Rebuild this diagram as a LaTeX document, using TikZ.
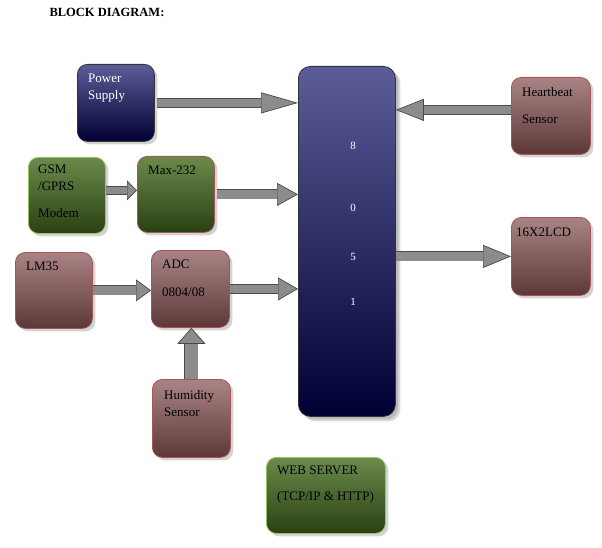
\documentclass[tikz,border=0pt]{standalone}
\usepackage{fontspec}
\setmainfont{Liberation Serif}
\usetikzlibrary{positioning,arrows.meta,shadows}
\definecolor{navytop}{HTML}{5C5C98}
\definecolor{navybot}{HTML}{000033}
\definecolor{greentop}{HTML}{6B8A4B}
\definecolor{greenbot}{HTML}{2A4012}
\definecolor{rosetop}{HTML}{AA8484}
\definecolor{rosebot}{HTML}{5C3838}
\definecolor{limeline}{HTML}{92C462}
\definecolor{redline}{HTML}{A85454}
\definecolor{pipefill}{HTML}{8C8C8C}
\definecolor{pipeline}{HTML}{4A4A4A}

\begin{document}
\begin{tikzpicture}[x=1pt,y=-1pt,font=\fontsize{13}{17}\selectfont,
  block/.style={anchor=north west,inner sep=0pt,rounded corners=10pt,line width=0.8pt,
    drop shadow={shadow xshift=3pt,shadow yshift=-3pt,opacity=0.35}},
  sz/.style 2 args={minimum width=#1pt,minimum height=#2pt},
  navyblock/.style={block,draw=black!80,top color=navytop,bottom color=navybot},
  greenblock/.style={block,top color=greentop,bottom color=greenbot},
  roseblock/.style={block,draw=redline,top color=rosetop,bottom color=rosebot},
  txt/.style={anchor=north west,inner sep=0pt,align=left},
  pipe/.style={draw=pipeline,line width=0.7pt,double=pipefill,double distance=#1},
  pipe/.default=8.5pt,
  head/.style 2 args={-{Triangle[length=#1,width=#2,fill=pipefill,color=pipeline,line width=0.7pt]}}]
  \useasboundingbox (0,0) rectangle (602,548);
  \node[anchor=west,font=\bfseries\fontsize{12.5}{15}\selectfont] (title) at (46,12) {BLOCK DIAGRAM:};

  % blocks
  \node[navyblock,sz={77}{77}] (ps) at (77,64) {};
  \node[greenblock,draw=limeline,sz={77}{76}] (gsm) at (28,157) {};
  \node[greenblock,draw=redline,sz={77}{76}] (max) at (137,156) {};
  \node[roseblock,sz={77}{76}] (lm) at (15,252) {};
  \node[roseblock,sz={78}{77}] (adc) at (151,250) {};
  \node[roseblock,sz={78}{78}] (hum) at (152,379) {};
  \node[navyblock,rounded corners=12pt,sz={97}{350},
    drop shadow={shadow xshift=5pt,shadow yshift=-5pt,opacity=0.3}] (mcu) at (298,66) {};
  \node[roseblock,sz={79}{77}] (hb) at (511,77) {};
  \node[roseblock,sz={79}{78}] (lcd) at (511,217) {};
  \node[greenblock,draw=limeline,sz={119}{76}] (web) at (266,457) {};

  % labels
  \node[txt,text=white,below right=10pt and 11pt of ps.north west] (pst) {Power\\Supply};
  \node[txt,below right=8pt and 10pt of gsm.north west] (gsmt) {GSM\\/GPRS\\[10pt]Modem};
  \node[txt,below right=10pt and 11pt of max.north west] (maxt) {Max-232};
  \node[txt,below right=10pt and 11pt of lm.north west] (lmt) {LM35};
  \node[txt,below right=10pt and 11pt of adc.north west] (adct) {ADC\\[11pt]0804/08};
  \node[txt,below right=11pt and 12pt of hum.north west] (humt) {Humidity\\Sensor};
  \node[txt,below right=10pt and 11pt of hb.north west] (hbt) {Heartbeat\\[10pt]Sensor};
  \node[txt,below right=11pt and 5pt of lcd.north west] (lcdt) {16X2LCD};
  \node[txt,below right=9pt and 11pt of web.north west] (webt) {WEB SERVER\\[9pt](TCP/IP \& HTTP)};
  \foreach \d/\y in {8/146,0/208,5/257,1/302}
    \node[text=white,font=\fontsize{11}{13}\selectfont] (d\d) at (353,\y) {\d};

  % arrows
  \draw[pipe,head={37pt}{21pt},shorten <=2pt] (ps.east) -- (ps.east -| mcu.west);
  \draw[pipe=7.5pt,head={10pt}{20pt}] ([yshift=5pt]gsm.east) -- ([yshift=5pt]gsm.east -| max.west);
  \draw[pipe,head={21pt}{23pt},shorten <=2pt] (max.east) -- (max.east -| mcu.west);
  \draw[pipe,head={15pt}{22pt}] (lm.east) -- (lm.east -| adc.west);
  \draw[pipe,head={20pt}{23pt}] (adc.east) -- (adc.east -| mcu.west);
  \draw[pipe=12.5pt,head={16pt}{28pt}] (hum.north) -- (hum.north |- adc.south);
  \draw[pipe,head={28pt}{22pt}] ([yshift=6pt]hb.west) -- ([yshift=6pt]hb.west -| mcu.east);
  \draw[pipe,head={28pt}{23pt}] (mcu.east |- lcd.west) -- (lcd.west);
\end{tikzpicture}
\end{document}
